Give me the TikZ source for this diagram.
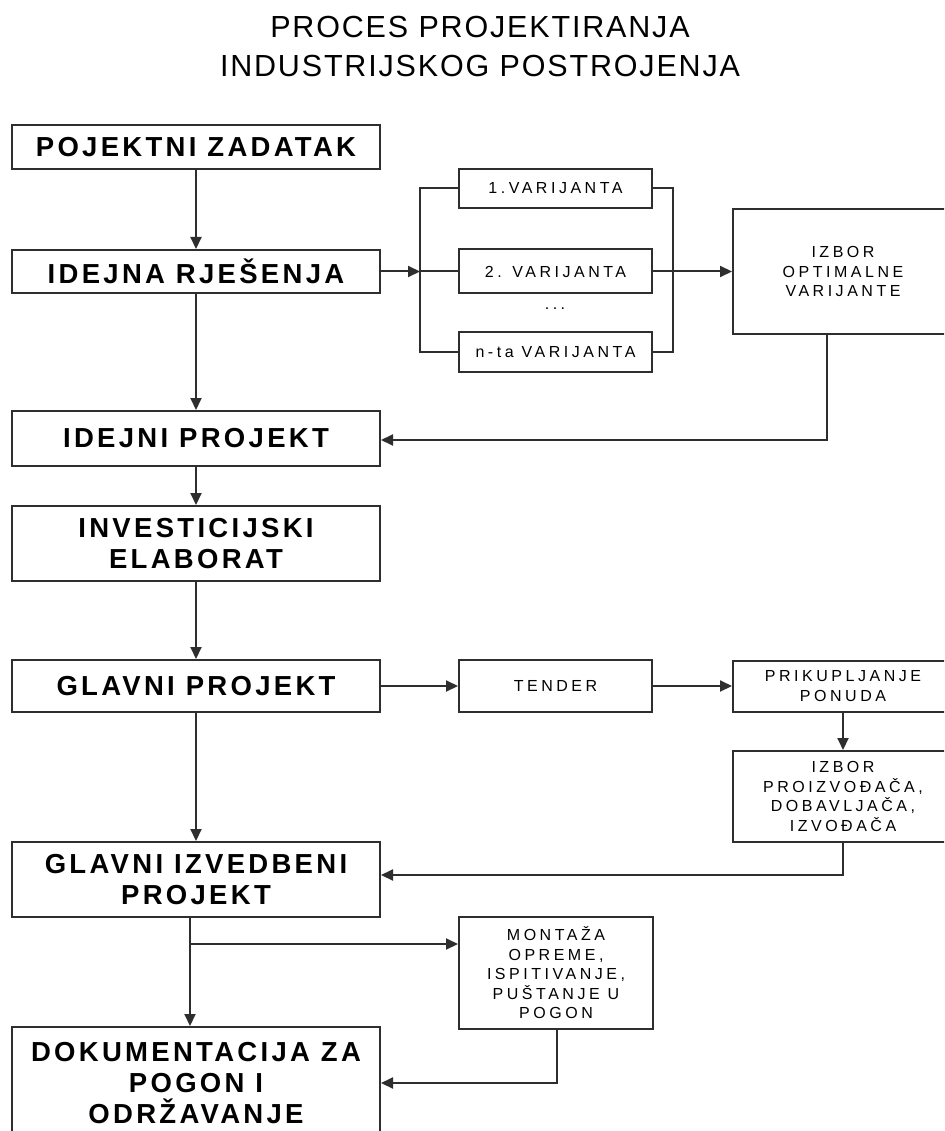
\documentclass[tikz,border=0pt]{standalone}
\usepackage{fontspec}
\setmainfont{Liberation Sans}
\newfontfamily\bigf[LetterSpace=12]{Liberation Sans}
\newfontfamily\smallf[LetterSpace=22]{Liberation Sans}
\newfontfamily\titlef[LetterSpace=6]{Liberation Sans}
\usetikzlibrary{arrows.meta}
\begin{document}
\begin{tikzpicture}[x=1pt,y=-1pt,
  box/.style={draw=black!82, line width=2pt, fill=white, align=center, inner sep=0pt},
  bigbox/.style={box, minimum width=368pt, font=\bigf\bfseries\fontsize{27.5}{31}\selectfont},
  smallbox/.style={box, font=\smallf\fontsize{16}{19.5}\selectfont},
  conn/.style={draw=black!82, line width=2pt},
  arr/.style={conn, -{Triangle[length=12pt,width=11pt]}},
  titletext/.style={font=\titlef\fontsize{30.5}{39}\selectfont, anchor=base, inner sep=0pt}
]
\useasboundingbox (0,0) rectangle (944,1131);
\fill[white] (0,0) rectangle (944,1131);
\clip (0,0) rectangle (944,1131);

% title
\node[titletext] (t1) at (480,38) {PROCES PROJEKTIRANJA};
\node[titletext] (t2) at (480,77) {INDUSTRIJSKOG POSTROJENJA};

% left column
\node[bigbox, minimum height=44pt] (pz) at (196,147) {POJEKTNI ZADATAK};
\node[bigbox, minimum height=43pt] (ir) at (196,271.5) {IDEJNA RJEŠENJA};
\node[bigbox, minimum height=55pt] (ip) at (196,438.5) {IDEJNI PROJEKT};
\node[bigbox, minimum height=75pt] (ie) at (196,543.5) {INVESTICIJSKI\\ELABORAT};
\node[bigbox, minimum height=52pt] (gp) at (196,686) {GLAVNI PROJEKT};
\node[bigbox, minimum height=75pt] (gip) at (196,879.5) {GLAVNI IZVEDBENI\\PROJEKT};
\node[bigbox, minimum height=112pt] (dok) at (196,1083) {DOKUMENTACIJA ZA\\POGON I\\ODRŽAVANJE};

% variants
\node[smallbox, minimum width=193pt, minimum height=39pt] (v1) at (555.5,188.5) {1.VARIJANTA};
\node[smallbox, minimum width=193pt, minimum height=44pt] (v2) at (555.5,271.5) {2. VARIJANTA};
\node[smallbox, minimum width=193pt, minimum height=40pt] (vn) at (555.5,352) {n-ta VARIJANTA};
\node[font=\smallf\fontsize{16}{19.5}\selectfont, inner sep=0pt] (dots) at (555,309) {...};
\node[smallbox, minimum width=220pt, minimum height=124pt] (iz) at (843,271.5) {IZBOR\\OPTIMALNE\\VARIJANTE};

% right lower
\node[smallbox, minimum width=193pt, minimum height=52pt] (td) at (555.5,686) {TENDER};
\node[smallbox, minimum width=220pt, minimum height=51pt] (pk) at (843,686) {PRIKUPLJANJE\\PONUDA};
\node[smallbox, minimum width=220pt, minimum height=91pt] (ipz) at (843,796.5) {IZBOR\\PROIZVOĐAČA,\\DOBAVLJAČA,\\IZVOĐAČA};
\node[smallbox, minimum width=194pt, minimum height=112pt] (mt) at (556,973) {MONTAŽA\\OPREME,\\ISPITIVANJE,\\PUŠTANJE U\\POGON};

% main vertical flow
\draw[arr] (pz) -- (ir);
\draw[arr] (ir) -- (ip);
\draw[arr] (ip) -- (ie);
\draw[arr] (ie) -- (gp);
\draw[arr] (gp) -- (gip);

% variant branching
\coordinate (bL1) at (420,188.5);
\coordinate (bLn) at (420,352);
\coordinate (bR1) at (673,188.5);
\coordinate (bRn) at (673,352);
\draw[conn] (v1.west) -- (bL1) -- (bLn) -- (vn.west);
\draw[conn] (v1.east) -- (bR1) -- (bRn) -- (vn.east);
\draw[arr] (ir.east) -- (ir.east -| bL1);
\draw[conn] (ir.east -| bL1) -- (v2.west);
\draw[arr] (v2.east) -- (iz.west);

% feedback from optimal variant
\coordinate (f1) at (827,440);
\draw[arr] (iz.south -| f1) -- (f1) -- (f1 -| ip.east);

% tender chain
\draw[arr] (gp.east) -- (td.west);
\draw[arr] (td.east) -- (pk.west);
\draw[arr] (pk.south) -- (ipz.north);
\coordinate (f2) at (843,875);
\draw[arr] (ipz.south) -- (f2) -- (f2 -| gip.east);

% assembly
\coordinate (b2) at (190,944);
\draw[arr] (gip.south -| b2) -- (dok.north -| b2);
\draw[arr] (b2) -- (b2 -| mt.west);
\coordinate (f3) at (557,1083);
\draw[arr] (mt.south -| f3) -- (f3) -- (f3 -| dok.east);
\end{tikzpicture}
\end{document}
